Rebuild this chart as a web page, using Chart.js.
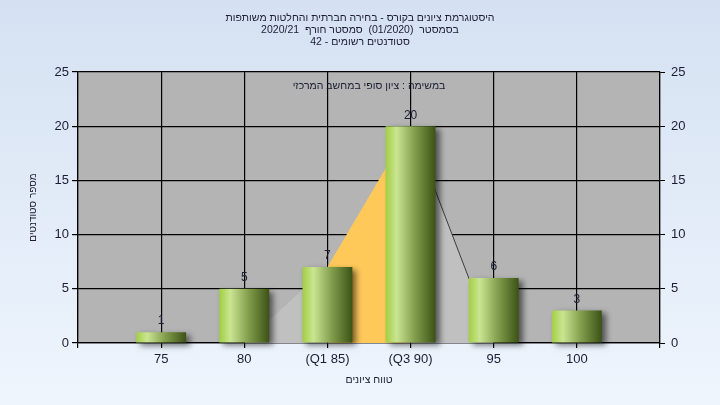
<!DOCTYPE html>
<html>
<head>
<meta charset="utf-8">
<script src="https://cdn.jsdelivr.net/npm/chart.js@4.4.0/dist/chart.umd.min.js"></script>
<style>
  html, body { margin: 0; padding: 0; background: #e4edf8; }
</style>
</head>
<body>
<canvas id="histChart" width="720" height="405"></canvas>
<script>
// data
const gradeLabels = ['', '75', '80', '(Q1 85)', '(Q3 90)', '95', '100', ''];
const studentCounts = [null, 1, 5, 7, 20, 6, 3, null];
const quartileArea = [null, null, 0, 7, 20, 0, null, null];
const yMax = 25;
const yStep = 5;

const titleLines = [
    'היסטוגרמת ציונים בקורס - בחירה חברתית והחלטות משותפות',
    'בסמסטר  (01/2020)  סמסטר חורף  2020/21',
    'סטודנטים רשומים - 42'
];
const taskLine = 'במשימה : ציון סופי במחשב המרכזי';
const xTitle = 'טווח ציונים';
const yTitle = 'מספר סטודנטים';

const textColor = '#1c1c34';
Chart.defaults.font.family = '"Liberation Sans", "DejaVu Sans", sans-serif';
Chart.defaults.color = textColor;

// background + plot area fill
const backgroundPlugin = {
    id: 'background',
    beforeDraw(chart) {
        const ctx = chart.ctx;
        const g = ctx.createLinearGradient(0, 0, 0, chart.height);
        g.addColorStop(0, '#d5e1f2');
        g.addColorStop(1, '#eef5fd');
        ctx.save();
        ctx.fillStyle = g;
        ctx.fillRect(0, 0, chart.width, chart.height);
        const a = chart.chartArea;
        ctx.fillStyle = '#b4b4b4';
        ctx.fillRect(a.left, a.top, a.right - a.left, a.bottom - a.top);
        ctx.restore();
    }
};

// drop shadow behind the bars
const barShadowPlugin = {
    id: 'barShadow',
    beforeDatasetDraw(chart, args) {
        if (args.index !== 0) return;
        const ctx = chart.ctx;
        ctx.save();
        ctx.shadowColor = 'rgba(0,0,0,0.55)';
        ctx.shadowBlur = 6;
        ctx.shadowOffsetX = 4;
        ctx.shadowOffsetY = 3;
    },
    afterDatasetDraw(chart, args) {
        if (args.index !== 0) return;
        chart.ctx.restore();
    }
};

// value labels over bars and the task line inside the plot
const labelPlugin = {
    id: 'valueLabels',
    afterDatasetsDraw(chart) {
        const ctx = chart.ctx;
        const meta = chart.getDatasetMeta(0);
        ctx.save();
        ctx.font = '12px "Liberation Sans", "DejaVu Sans", sans-serif';
        ctx.fillStyle = textColor;
        ctx.textAlign = 'center';
        ctx.textBaseline = 'middle';
        meta.data.forEach(function(bar, i) {
            if (studentCounts[i] == null) return;
            ctx.fillText(String(studentCounts[i]), bar.x, bar.y - 11);
        });
        const a = chart.chartArea;
        ctx.font = '10.5px "Liberation Sans", "DejaVu Sans", sans-serif';
        ctx.fillText(taskLine, (a.left + a.right) / 2, a.top + 14);
        ctx.restore();
    }
};

function barGradient(context) {
    const chart = context.chart;
    const x = chart.scales.x;
    if (!x || !chart.chartArea) return '#9cc83c';
    const cx = x.getPixelForValue(context.dataIndex);
    const half = (x.getPixelForValue(1) - x.getPixelForValue(0)) * 0.3;
    const g = chart.ctx.createLinearGradient(cx - half, 0, cx + half, 0);
    g.addColorStop(0, '#a2ce44');
    g.addColorStop(0.22, '#cae592');
    g.addColorStop(0.6, '#7f9b4a');
    g.addColorStop(1, '#3c5216');
    return g;
}

new Chart(document.getElementById('histChart'), {
    data: {
        labels: gradeLabels,
        datasets: [{
            type: 'bar',
            data: studentCounts,
            backgroundColor: barGradient,
            borderWidth: 0,
            categoryPercentage: 1,
            barPercentage: 0.6,
            clip: false,
            order: 0
        }, {
            type: 'line',
            data: quartileArea,
            fill: 'origin',
            backgroundColor: '#c0c0c0',
            borderColor: 'rgba(0,0,0,0)',
            borderWidth: 1,
            pointRadius: 0,
            tension: 0,
            segment: {
                backgroundColor: ctx => ctx.p0DataIndex === 3 ? '#ffc95a' : '#c0c0c0',
                borderColor: ctx => ctx.p0DataIndex === 4 ? '#3c3c3c' : 'rgba(0,0,0,0)'
            },
            order: 1
        }]
    },
    plugins: [backgroundPlugin, barShadowPlugin, labelPlugin],
    options: {
        responsive: false,
        animation: false,
        layout: { padding: 0 },
        plugins: {
            legend: { display: false },
            tooltip: { enabled: false },
            title: {
                display: true,
                text: titleLines,
                color: textColor,
                font: { size: 10.5, weight: 'normal', lineHeight: 12 / 10.5 },
                padding: { top: 12, bottom: 24 }
            }
        },
        scales: {
            x: {
                type: 'category',
                offset: false,
                afterFit(scale) { scale.height = 62; },
                grid: { offset: false, color: '#000', lineWidth: 1.2, tickLength: 5, tickColor: '#000' },
                border: { color: '#000', width: 1.2 },
                ticks: { autoSkip: false, maxRotation: 0, padding: 4, color: textColor, font: { size: 13 } },
                title: { display: true, text: xTitle, color: textColor, font: { size: 10.5 }, padding: { top: 0, bottom: 19 } }
            },
            y: {
                position: 'left',
                min: 0,
                max: yMax,
                afterFit(scale) { scale.width = 78; },
                grid: { color: '#000', lineWidth: 1.2, tickLength: 6, tickColor: '#000' },
                border: { color: '#000', width: 1.2 },
                ticks: { stepSize: yStep, padding: 3, color: textColor, font: { size: 13 } },
                title: { display: true, text: yTitle, color: textColor, font: { size: 10 }, padding: { top: 27, bottom: 0 } }
            },
            y2: {
                position: 'right',
                min: 0,
                max: yMax,
                afterFit(scale) { scale.width = 60; },
                grid: { drawOnChartArea: false, tickLength: 5, tickColor: '#000' },
                border: { color: '#000', width: 1.2 },
                ticks: { stepSize: yStep, padding: 6, color: textColor, font: { size: 13 } }
            }
        }
    }
});
</script>
</body>
</html>
